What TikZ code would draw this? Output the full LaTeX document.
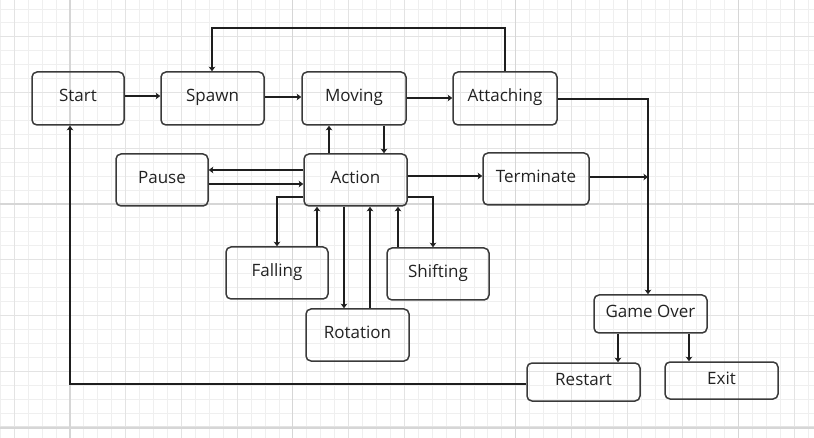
\documentclass[tikz,border=0pt]{standalone}
\usepackage{fontspec}
\setmainfont{Open Sans}
\usetikzlibrary{arrows.meta}
\definecolor{boxline}{HTML}{3A3A3A}
\definecolor{connline}{HTML}{1E1E1E}
\definecolor{txt}{HTML}{222222}
\definecolor{gminor}{HTML}{EFEFEF}
\definecolor{gmed}{HTML}{E3E3E3}
\definecolor{gmajor}{HTML}{D6D6D6}
\begin{document}
\begin{tikzpicture}[x=1pt,y=-1pt,
  box/.style={draw=boxline, line width=1.5pt, rounded corners=5pt, inner sep=0pt,
    font=\fontsize{17}{20}\selectfont, text=txt, text height=7pt, text depth=0pt},
  conn/.style={draw=connline, line width=1.9pt, -{Stealth[length=4.5pt,width=6.5pt,inset=1pt]}},
  gridminor/.style={draw=gminor, line width=0.9pt},
  gridmed/.style={draw=gmed, line width=1pt},
  gridmajor/.style={draw=gmajor, line width=1.1pt}]
\useasboundingbox (0,0) rectangle (814,438);
\begin{scope}
\clip (0,0) rectangle (814,438);
\foreach \i in {0,...,58} { \draw[gridminor] ({0.35+\i*13.93},0) -- ++(0,438); }
\foreach \i in {0,...,31} { \draw[gridminor] (0,{8.98+\i*13.93}) -- ++(814,0); }
\foreach \i in {0,...,14} { \draw[gridmed] ({14.28+\i*55.72},0) -- ++(0,438); }
\foreach \i in {0,...,7} { \draw[gridmed] (0,{36.84+\i*55.72}) -- ++(814,0); }
\foreach \xx in {70,292.9,515.8,738.7} { \draw[gridmajor] (\xx,0) -- ++(0,438); }
\foreach \yy in {204,428} { \draw[gridmajor] (0,\yy) -- ++(814,0); }
\end{scope}
% nodes
\node[box, minimum width=92pt, minimum height=53pt] (start) at (78,98.5) {Start};
\node[box, minimum width=103pt, minimum height=53pt] (spawn) at (212.5,98.5) {Spawn};
\node[box, minimum width=104pt, minimum height=53pt] (moving) at (354,98.5) {Moving};
\node[box, minimum width=104pt, minimum height=53pt] (attach) at (505,98.5) {Attaching};
\node[box, minimum width=92pt, minimum height=52pt] (pause) at (162,180) {Pause};
\node[box, minimum width=103pt, minimum height=52pt] (action) at (355.5,180) {Action};
\node[box, minimum width=106pt, minimum height=52pt] (term) at (536,179) {Terminate};
\node[box, minimum width=102pt, minimum height=52pt] (falling) at (277,273) {Falling};
\node[box, minimum width=102pt, minimum height=52pt] (shifting) at (438,274) {Shifting};
\node[box, minimum width=103pt, minimum height=52pt] (rotation) at (357.5,335) {Rotation};
\node[box, minimum width=113pt, minimum height=38pt] (gameover) at (650.5,314) {Game Over};
\node[box, minimum width=113pt, minimum height=38pt] (restart) at (583.5,382) {Restart};
\node[box, minimum width=113pt, minimum height=37pt] (exit) at (721.5,380.5) {Exit};
\coordinate (tj) at (648,177);
% connectors
\draw[conn] (start.east |- 0,96) -- (spawn.west |- 0,96);
\draw[conn] (spawn.east |- 0,97) -- (moving.west |- 0,97);
\draw[conn] (moving.east |- 0,98) -- (attach.west |- 0,98);
\draw[conn] (attach.north -| 505,0) -- (505,28) -- (212,28) -- (spawn.north -| 212,0);
\draw[conn] (attach.east |- 0,99) -| (gameover.north -| 648,0);
\draw[conn] (term.east |- 0,177) -- (tj);
\draw[conn] (action.east |- 0,176) -- (term.west |- 0,176);
\draw[conn] (action.north -| 329,0) -- (moving.south -| 329,0);
\draw[conn] (moving.south -| 384,0) -- (action.north -| 384,0);
\draw[conn] (action.west |- 0,170) -- (pause.east |- 0,170);
\draw[conn] (pause.east |- 0,184) -- (action.west |- 0,184);
\draw[conn] (action.west |- 0,197) -| (falling.north -| 277,0);
\draw[conn] (falling.north -| 317,0) -- (action.south -| 317,0);
\draw[conn] (action.south -| 344,0) -- (rotation.north -| 344,0);
\draw[conn] (rotation.north -| 370,0) -- (action.south -| 370,0);
\draw[conn] (shifting.north -| 398,0) -- (action.south -| 398,0);
\draw[conn] (action.east |- 0,197) -| (shifting.north -| 433,0);
\draw[conn] (gameover.south -| 618,0) -- (restart.north -| 618,0);
\draw[conn] (gameover.south -| 689,0) -- (exit.north -| 689,0);
\draw[conn] (restart.west |- 0,384) -| (start.south -| 70,0);
\end{tikzpicture}
\end{document}
